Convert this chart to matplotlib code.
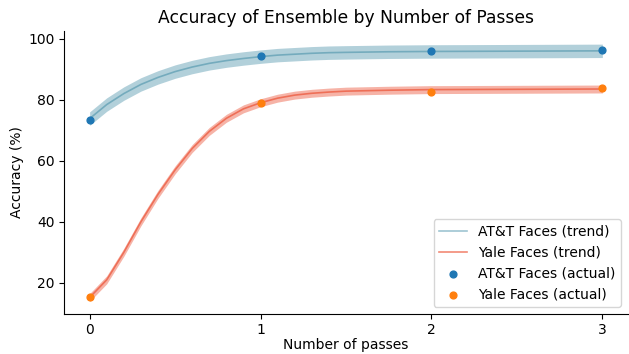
import matplotlib
matplotlib.use("Agg")
import matplotlib.pyplot as plt

# values
passes = [0, 1, 2, 3]
att_actual = [73.3, 94.2, 95.8, 96.2]
yale_actual = [15.5, 79.0, 82.6, 83.9]

trend_x = [0, 0.1, 0.2, 0.3, 0.4, 0.5, 0.6, 0.7, 0.8, 0.9, 1.0,
           1.1, 1.2, 1.3, 1.4, 1.5, 1.75, 2.0, 2.5, 3.0]
att_trend = [73.8, 78.4, 82.0, 85.0, 87.3, 89.2, 90.7, 91.9, 92.8, 93.5, 94.1,
             94.6, 94.9, 95.2, 95.4, 95.5, 95.7, 95.8, 95.9, 96.0]
yale_trend = [15.2, 21.0, 30.0, 40.0, 49.0, 57.0, 64.0, 69.6, 73.9, 77.0, 79.0,
              80.5, 81.5, 82.1, 82.5, 82.8, 83.1, 83.3, 83.4, 83.5]
att_band = 2.2
yale_band = 1.3

att_c = "#2a7f9a"
yale_c = "#eb4b2d"

fig = plt.figure(figsize=(6.29, 3.54), dpi=100)
ax = fig.add_axes([64 / 629, 1 - 314 / 354, 564 / 629, 283 / 354])

ax.fill_between(trend_x, [v - att_band for v in att_trend], [v + att_band for v in att_trend],
                color=att_c, alpha=0.36, linewidth=0)
ax.plot(trend_x, att_trend, color=att_c, alpha=0.45, lw=1.2, label="AT&T Faces (trend)")
ax.fill_between(trend_x, [v - yale_band for v in yale_trend], [v + yale_band for v in yale_trend],
                color=yale_c, alpha=0.42, linewidth=0)
ax.plot(trend_x, yale_trend, color=yale_c, alpha=0.65, lw=1.2, label="Yale Faces (trend)")

ax.scatter(passes, att_actual, color="#1f77b4", s=24, zorder=3, label="AT&T Faces (actual)")
ax.scatter(passes, yale_actual, color="#ff7f0e", s=24, zorder=3, label="Yale Faces (actual)")

ax.set_xlim(-0.15, 3.15)
ax.set_ylim(9.8, 102.5)
ax.set_xticks(passes)
ax.set_yticks([20, 40, 60, 80, 100])
ax.spines["top"].set_visible(False)
ax.spines["right"].set_visible(False)
ax.tick_params(labelsize=10, length=3.5, pad=3)

ax.set_title("Accuracy of Ensemble by Number of Passes", fontsize=12.3)
ax.set_xlabel("Number of passes", fontsize=10, labelpad=1)
ax.set_ylabel("Accuracy (%)", fontsize=10, labelpad=3)
ax.legend(loc="lower right", fontsize=10)

fig.savefig("out.png", dpi=100)
